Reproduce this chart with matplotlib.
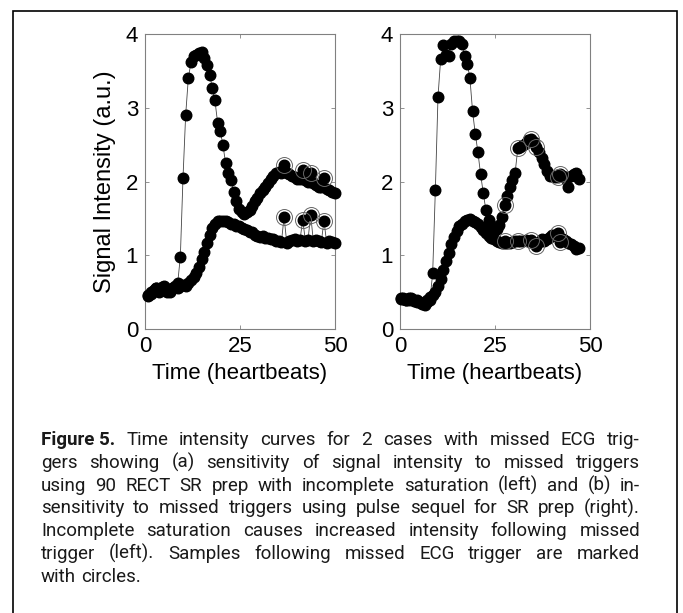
# Curvas de intensidad temporal con disparos de ECG perdidos
import matplotlib
matplotlib.use('Agg')
import numpy as np
import matplotlib.pyplot as plt
from matplotlib.patches import Rectangle

# Datos: panel izquierdo (90 RECT SR prep)
t_izq = [0.9, 1.6, 2.3, 3.0, 3.7, 4.4, 5.1, 5.8, 6.5, 7.2, 7.9, 8.6, 9.3, 10.0, 10.7,
         11.4, 12.1, 12.8, 13.5, 14.2, 14.9, 15.6, 16.3, 17.0, 17.7, 18.4, 19.1, 19.8,
         20.5, 21.2, 21.9, 22.6, 23.3, 24.0, 24.7, 25.4, 26.1, 26.8, 27.5, 28.2, 28.9,
         29.6, 30.3, 31.0, 31.7, 32.4, 33.1, 33.8, 34.5, 35.2, 35.9, 36.6, 37.3, 38.0,
         38.7, 39.4, 40.1, 40.8, 41.5, 42.2, 42.9, 43.6, 44.3, 45.0, 45.7, 46.4, 47.1,
         47.8, 48.5, 49.2, 49.9]
alta_izq = [0.46, 0.50, 0.53, 0.55, 0.52, 0.57, 0.54, 0.50, 0.52, 0.55, 0.58, 0.62,
            0.98, 2.05, 2.90, 3.40, 3.62, 3.70, 3.72, 3.74, 3.76, 3.68, 3.58, 3.45,
            3.27, 3.10, 2.80, 2.68, 2.50, 2.25, 2.12, 2.02, 1.86, 1.73, 1.63, 1.58,
            1.56, 1.58, 1.62, 1.67, 1.73, 1.78, 1.84, 1.88, 1.93, 1.98, 2.03, 2.08,
            2.12, 2.13, 2.11, 2.23, 2.12, 2.10, 2.08, 2.06, 2.04, 2.04, 2.16, 2.02,
            2.00, 2.11, 1.98, 1.95, 1.93, 1.92, 2.05, 1.90, 1.88, 1.86, 1.85]
baja_izq = [0.45, 0.48, 0.52, 0.56, 0.50, 0.55, 0.58, 0.52, 0.50, 0.54, 0.57, 0.55,
            0.58, 0.60, 0.58, 0.63, 0.66, 0.70, 0.76, 0.84, 0.95, 1.05, 1.16, 1.27,
            1.37, 1.43, 1.46, 1.46, 1.46, 1.46, 1.45, 1.43, 1.42, 1.40, 1.39, 1.37,
            1.36, 1.34, 1.32, 1.31, 1.28, 1.26, 1.25, 1.26, 1.24, 1.23, 1.22, 1.22,
            1.20, 1.20, 1.18, 1.52, 1.17, 1.19, 1.21, 1.22, 1.20, 1.21, 1.48, 1.20,
            1.21, 1.55, 1.19, 1.21, 1.20, 1.18, 1.47, 1.17, 1.20, 1.18, 1.17]
perdidos_izq = [51, 58, 61, 66]

# Datos: panel derecho (pulse sequel SR prep)
t_der = [0.2, 0.9, 1.6, 2.3, 3.0, 3.7, 4.4, 5.1, 5.8, 6.5, 7.2, 7.9, 8.6, 9.3, 10.0,
         10.7, 11.4, 12.1, 12.8, 13.5, 14.2, 14.9, 15.6, 16.3, 17.0, 17.7, 18.4, 19.1,
         19.8, 20.5, 21.2, 21.9, 22.6, 23.3, 24.0, 24.7, 25.4, 26.1, 26.8, 27.5, 28.2,
         28.9, 29.6, 30.3, 31.0, 31.7, 32.4, 33.1, 33.8, 34.5, 35.2, 35.9, 36.6, 37.3,
         38.0, 38.7, 39.4, 40.1, 40.8, 41.5, 42.2, 42.9, 43.6, 44.3, 45.0, 45.7, 46.4,
         47.1]
alta_der = [0.42, 0.41, 0.40, 0.42, 0.41, 0.38, 0.39, 0.37, 0.35, 0.33, 0.36, 0.40,
            0.76, 1.88, 3.15, 3.66, 3.85, 3.72, 3.70, 3.86, 3.90, 3.91, 3.90, 3.86,
            3.70, 3.60, 3.40, 2.95, 2.65, 2.40, 2.10, 1.85, 1.61, 1.48, 1.38, 1.33,
            1.36, 1.41, 1.52, 1.68, 1.80, 1.92, 2.02, 2.12, 2.45, 2.47, 2.50, 2.52,
            2.56, 2.58, 2.53, 2.47, 2.40, 2.32, 2.24, 2.14, 2.08, 2.07, 2.06, 2.06,
            2.10, 2.08, 2.04, 1.92, 2.07, 2.10, 2.12, 2.04]
baja_der = [0.41, 0.42, 0.40, 0.40, 0.42, 0.39, 0.37, 0.36, 0.34, 0.36, 0.40, 0.43,
            0.46, 0.50, 0.58, 0.68, 0.80, 0.92, 1.03, 1.15, 1.25, 1.33, 1.40, 1.43,
            1.46, 1.48, 1.49, 1.47, 1.45, 1.42, 1.38, 1.34, 1.30, 1.26, 1.24, 1.22,
            1.19, 1.18, 1.17, 1.20, 1.16, 1.17, 1.18, 1.19, 1.20, 1.19, 1.20, 1.21,
            1.19, 1.21, 1.16, 1.12, 1.18, 1.22, 1.20, 1.22, 1.25, 1.27, 1.28, 1.30,
            1.18, 1.22, 1.20, 1.17, 1.15, 1.12, 1.08, 1.10]
perdidos_der = [39, 44, 49, 51, 59, 60]

# Ejes y textos
x_ticks = [0, 25, 50]
y_ticks = [0, 1, 2, 3, 4]
x_label = 'Time (heartbeats)'
y_label = 'Signal Intensity (a.u.)'
etiqueta_pie = 'Figure 5.'
lineas_pie = [
    'Time intensity curves for 2 cases with missed ECG trig-',
    'gers showing (a) sensitivity of signal intensity to missed triggers',
    'using 90 RECT SR prep with incomplete saturation (left) and (b) in-',
    'sensitivity to missed triggers using pulse sequel for SR prep (right).',
    'Incomplete saturation causes increased intensity following missed',
    'trigger (left). Samples following missed ECG trigger are marked',
    'with circles.',
]

W, H = 683, 613  # tamaño en píxeles


def fx(px):
    return px / W


def fy(py):
    return 1 - py / H


def dibujar_panel(ax, t, alta, baja, perdidos):
    t = np.array(t)
    for serie in (np.array(alta), np.array(baja)):
        ax.plot(t, serie, color='#444444', lw=0.6, marker='o', ms=7.6,
                mfc='black', mec='black', clip_on=False, zorder=3)
        ax.plot(t[perdidos], serie[perdidos], ls='none', marker='o', ms=11.5,
                mfc='none', mec='#666666', mew=0.7, clip_on=False, zorder=4)
    ax.set_xlim(0, 50)
    ax.set_ylim(0, 4)
    ax.set_xticks(x_ticks)
    ax.set_yticks(y_ticks)
    ax.tick_params(direction='in', length=3, width=0.6, color='#808080',
                   top=True, right=True, labelsize=16, pad=5)
    for s in ax.spines.values():
        s.set_color('#808080')
        s.set_linewidth(0.8)
    ax.set_xlabel(x_label, fontsize=16, labelpad=4)


def pie_justificado(fig, x0, x1, y0, paso, familia, tam):
    # Crea las palabras, ajusta el tamaño para que la línea más larga quepa
    renderer = fig.canvas.get_renderer()
    lineas = []
    for k, linea in enumerate(lineas_pie):
        fichas = [(p, 'normal') for p in linea.split()]
        if k == 0:
            fichas = [(etiqueta_pie, 'bold')] + fichas
        textos = [fig.text(0, fy(y0 + k * paso), p, family=familia, weight=peso,
                           fontsize=tam, color='#1a1a1a', va='baseline')
                  for p, peso in fichas]
        lineas.append(textos)

    def medir(tam_):
        esp = fig.text(0, 0, 'n n', family=familia, fontsize=tam_)
        sin = fig.text(0, 0, 'nn', family=familia, fontsize=tam_)
        e = esp.get_window_extent(renderer).width - sin.get_window_extent(renderer).width
        esp.remove()
        sin.remove()
        anchos = [[t.get_window_extent(renderer).width for t in tl] for tl in lineas]
        return e, anchos

    e, anchos = medir(tam)
    natural = max(sum(a) + e * (len(a) - 1) for a in anchos)
    if natural > (x1 - x0):
        tam = tam * (x1 - x0) / natural * 0.995
        for tl in lineas:
            for t in tl:
                t.set_fontsize(tam)
        e, anchos = medir(tam)

    for k, (tl, a) in enumerate(zip(lineas, anchos)):
        if k == len(lineas) - 1:
            hueco = e
        else:
            hueco = (x1 - x0 - sum(a)) / (len(a) - 1)
        x = x0
        for t, w in zip(tl, a):
            t.set_x(fx(x))
            x += w + hueco


def plot_curvas():
    plt.rcParams['font.family'] = ['Liberation Sans', 'DejaVu Sans']

    fig = plt.figure(figsize=(W / 100, H / 100), dpi=100)

    ax1 = fig.add_axes([fx(145), fy(329), fx(190), 295 / H])
    ax2 = fig.add_axes([fx(400), fy(329), fx(190), 295 / H])
    dibujar_panel(ax1, t_izq, alta_izq, baja_izq, perdidos_izq)
    dibujar_panel(ax2, t_der, alta_der, baja_der, perdidos_der)
    ax1.set_ylabel(y_label, fontsize=17, labelpad=7)

    # Marco exterior
    fig.patches.append(Rectangle((fx(13), -0.05), fx(677 - 13), fy(11) + 0.05,
                                 transform=fig.transFigure, fill=False,
                                 ec='black', lw=1.2, clip_on=False))

    fig.canvas.draw()
    pie_justificado(fig, 41, 640, 445, 22.8, ['Roboto', 'Liberation Sans'], 13.5)

    fig.savefig('out.png', dpi=100)


if __name__ == "__main__":
    plot_curvas()
